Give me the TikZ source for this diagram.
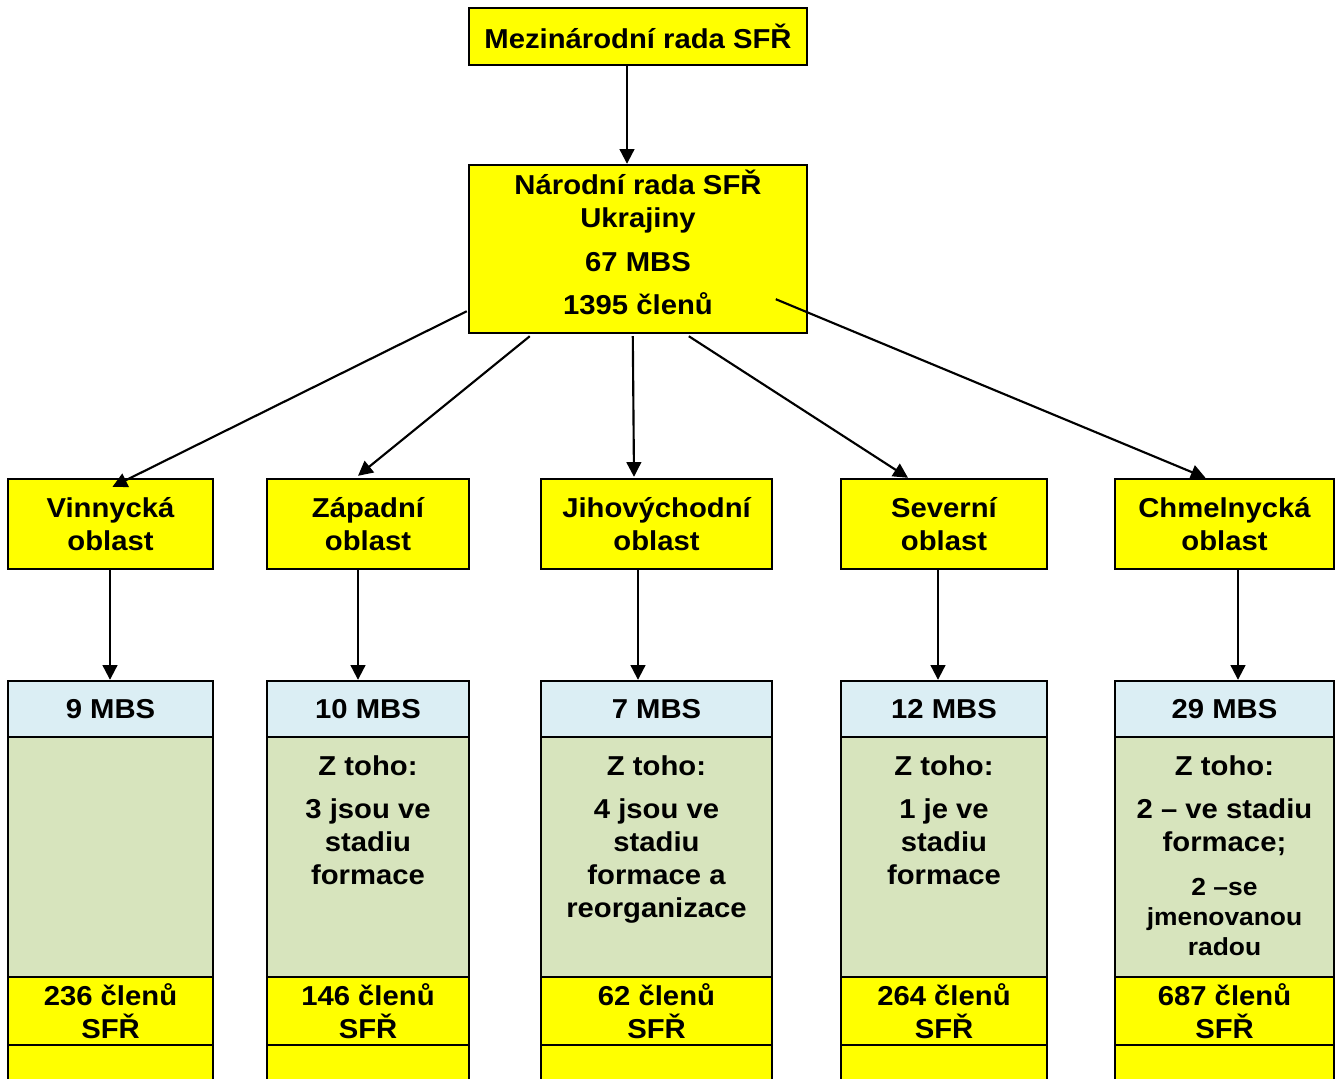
\documentclass[tikz,border=0pt]{standalone}
\usepackage{fontspec}
\setmainfont{Liberation Sans}[FakeStretch=1.07]
\usetikzlibrary{arrows.meta,calc}
\definecolor{yel}{RGB}{255,255,0}
\definecolor{lblue}{RGB}{219,238,244}
\definecolor{lgreen}{RGB}{215,228,189}
\newcommand\bx[7]{\node[box,fill=#6,minimum width={(#4-#2)*0.75pt},minimum height={(#5-#3)*0.75pt}] (#1) at ({(#2+#4)/2},{(#3+#5)/2}) {#7};}
\newcommand\orgcol[8]{%
  \bx{#1}{#2}{479}{#3}{569}{yel}{#4}
  \bx{#1h}{#2}{681}{#3}{737}{lblue}{#5}
  \bx{#1g}{#2}{737}{#3}{977}{lgreen}{}
  \node[txt,anchor=north] (#1t) at ($(#1g.north)+(0,20)$) {#6};
  \bx{#1f}{#2}{977}{#3}{1045}{yel}{#7}
  \bx{#1e}{#2}{1045}{#3}{1100}{yel}{}
  \draw[arr] ($(#1.south)+({#8-(#2+#3)/2},0)$) -- ($(#1h.north)+({#8-(#2+#3)/2},0)$);
}
\begin{document}
\begin{tikzpicture}[x=0.75pt,y=-0.75pt,
  txt/.style={inner sep=0pt,align=center,font=\bfseries\fontsize{20.5}{24.75}\selectfont},
  box/.style={txt,draw=black,line width=1.8pt},
  arr/.style={line width=1.6pt,-{Triangle[length=11pt,width=11pt]}}]
\useasboundingbox (0,0) rectangle (1340,1079);
\bx{top}{469}{8}{807}{65}{yel}{Mezinárodní rada SFŘ}
\bx{nat}{469}{165}{807}{333}{yel}{}
\node[txt,anchor=north] (natt) at ($(nat.north)+(0,6)$) {Národní rada SFŘ\\Ukrajiny\\[8pt]67 MBS\\[8pt]1395 členů};
\draw[arr] ($(top.south)+(-11,0)$) -- ($(nat.north)+(-11,0)$);

\orgcol{v}{8}{213}{Vinnycká\\oblast}{9 MBS}{}{236 členů\\SFŘ}{110}
\orgcol{z}{267}{469}{Západní\\oblast}{10 MBS}{Z toho:\\[7pt]3 jsou ve\\stadiu\\formace}{146 členů\\SFŘ}{358}
\orgcol{j}{541}{772}{Jihovýchodní\\oblast}{7 MBS}{Z toho:\\[7pt]4 jsou ve\\stadiu\\formace a\\reorganizace}{62 členů\\SFŘ}{638}
\orgcol{s}{841}{1047}{Severní\\oblast}{12 MBS}{Z toho:\\[7pt]1 je ve\\stadiu\\formace}{264 členů\\SFŘ}{938}
\orgcol{c}{1115}{1334}{Chmelnycká\\oblast}{29 MBS}{Z toho:\\[7pt]2 – ve stadiu\\formace;}{687 členů\\SFŘ}{1238}
\node[txt,anchor=north,font=\bfseries\fontsize{18.5}{22.5}\selectfont] (ct2) at ($(cg.north)+(0,142)$) {2 –se\\jmenovanou\\radou};

\draw[arr] ($(nat.south west)+(-1,-23)$) -- ($(v.north)+(2,9)$);
\draw[arr] ($(nat.south west)+(62,2)$) -- ($(z.north)+(-10,-2)$);
\draw[arr] ($(nat.south west)+(165,2)$) -- ($(j.north)+(-22.5,-1)$);
\draw[arr] ($(nat.south west)+(221,2)$) -- ($(s.north)+(-36,0)$);
\draw[arr] ($(nat.south west)+(308,-35)$) -- ($(c.north)+(-19,0)$);
\end{tikzpicture}
\end{document}
